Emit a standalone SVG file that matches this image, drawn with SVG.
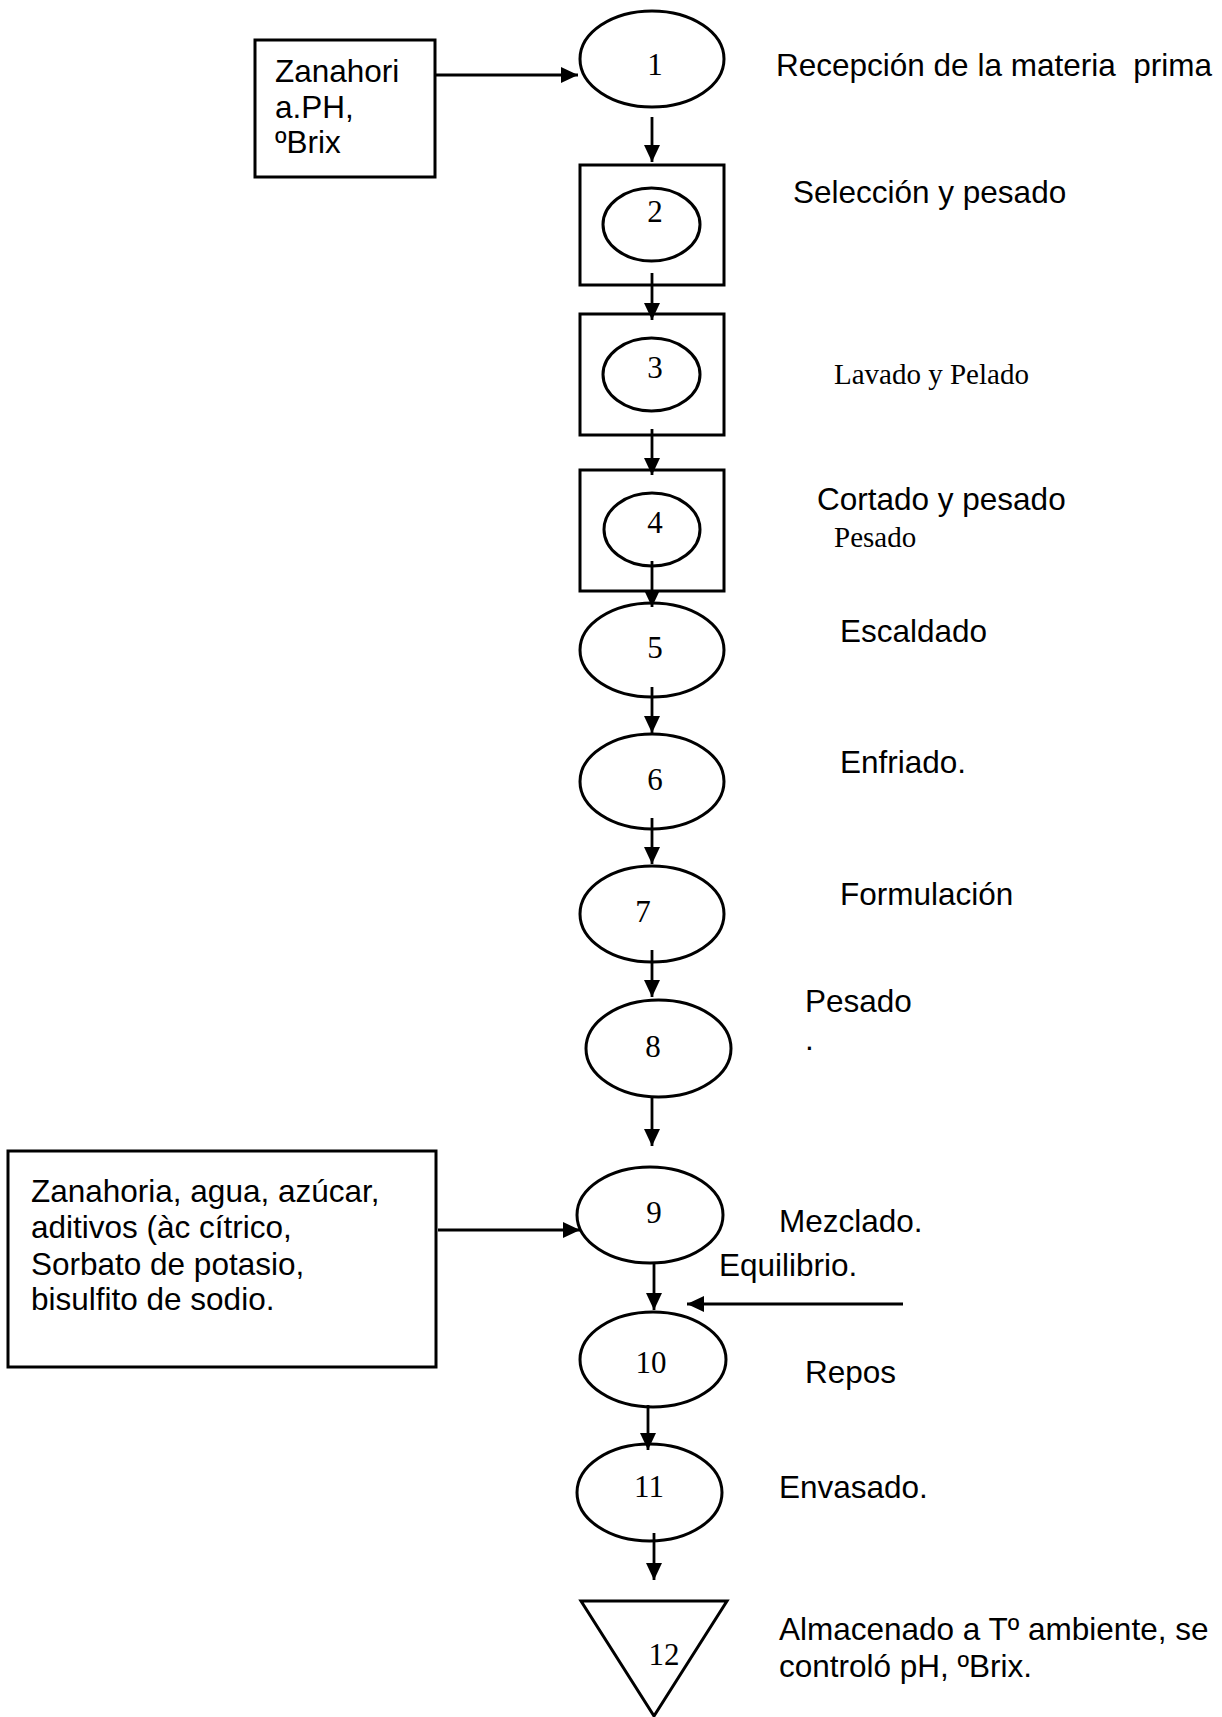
<svg xmlns="http://www.w3.org/2000/svg" width="1222" height="1717" viewBox="0 0 1222 1717">
<defs>
<marker id="arr" markerWidth="17" markerHeight="16" refX="17" refY="8" orient="auto" markerUnits="userSpaceOnUse">
<path d="M0,0 L17,8 L0,16 z" fill="#000"/>
</marker>
<style>
.shape{fill:#fff;stroke:#000;stroke-width:3}
.conn line{stroke:#000;stroke-width:2.8;marker-end:url(#arr)}
.sans{font-family:"Liberation Sans",Arial,sans-serif;font-size:31.5px;fill:#000;white-space:pre}
.serif{font-family:"Liberation Serif","Times New Roman",serif;font-size:29px;fill:#000}
.num{font-family:"Liberation Serif","Times New Roman",serif;font-size:31px;fill:#000;text-anchor:middle}
</style>
</defs>
<rect width="1222" height="1717" fill="#fff"/>

<g id="input1">
<rect class="shape" x="255" y="40" width="180" height="137"/>
<text class="sans" x="275" y="82">Zanahori</text>
<text class="sans" x="275" y="118">a.PH,</text>
<text class="sans" x="275" y="153">ºBrix</text>
</g>

<g id="input2">
<rect class="shape" x="8" y="1151" width="428" height="216"/>
<text class="sans" x="31" y="1202">Zanahoria, agua, azúcar,</text>
<text class="sans" x="31" y="1238">aditivos (àc cítrico,</text>
<text class="sans" x="31" y="1275">Sorbato de potasio,</text>
<text class="sans" x="31" y="1310">bisulfito de sodio.</text>
</g>

<g id="n1">
<ellipse class="shape" cx="652" cy="59" rx="72" ry="48"/>
<text class="num" x="655" y="75">1</text>
<text class="sans" x="776" y="76" xml:space="preserve">Recepción de la materia  prima</text>
</g>

<g id="n2">
<rect class="shape" x="580" y="165" width="144" height="120"/>
<ellipse class="shape" cx="651.5" cy="224.5" rx="48.5" ry="36.5"/>
<text class="num" x="655" y="222">2</text>
<text class="sans" x="793" y="203">Selección y pesado</text>
</g>

<g id="n3">
<rect class="shape" x="580" y="314" width="144" height="121"/>
<ellipse class="shape" cx="651.5" cy="374.5" rx="48.5" ry="36.5"/>
<text class="num" x="655" y="378">3</text>
<text class="serif" x="834" y="384">Lavado y Pelado</text>
</g>

<g id="n4">
<rect class="shape" x="580" y="470" width="144" height="121"/>
<ellipse class="shape" cx="652" cy="529.5" rx="48" ry="36.5"/>
<text class="num" x="655" y="533">4</text>
<text class="sans" x="817" y="510">Cortado y pesado</text>
<text class="serif" x="834" y="547">Pesado</text>
</g>

<g id="n5">
<ellipse class="shape" cx="652" cy="650" rx="72" ry="47"/>
<text class="num" x="655" y="658">5</text>
<text class="sans" x="840" y="642">Escaldado</text>
</g>

<g id="n6">
<ellipse class="shape" cx="652" cy="781.5" rx="72" ry="47.5"/>
<text class="num" x="655" y="790">6</text>
<text class="sans" x="840" y="773">Enfriado.</text>
</g>

<g id="n7">
<ellipse class="shape" cx="652" cy="914" rx="72" ry="48"/>
<text class="num" x="643" y="922">7</text>
<text class="sans" x="840" y="905">Formulación</text>
</g>

<g id="n8">
<ellipse class="shape" cx="658.5" cy="1048.5" rx="72.5" ry="48.5"/>
<text class="num" x="653" y="1057">8</text>
<text class="sans" x="805" y="1012">Pesado</text>
<text class="sans" x="805" y="1050">.</text>
</g>

<g id="n9">
<ellipse class="shape" cx="650" cy="1215" rx="73" ry="48"/>
<text class="num" x="654" y="1223">9</text>
<text class="sans" x="779" y="1232">Mezclado.</text>
<text class="sans" x="719" y="1276">Equilibrio.</text>
</g>

<g id="n10">
<ellipse class="shape" cx="653" cy="1359.5" rx="73" ry="47.5"/>
<text class="num" x="651" y="1373">10</text>
<text class="sans" x="805" y="1383">Repos</text>
</g>

<g id="n11">
<ellipse class="shape" cx="649.5" cy="1492.5" rx="72.5" ry="48.5"/>
<text class="num" x="649" y="1497">11</text>
<text class="sans" x="779" y="1498">Envasado.</text>
</g>

<g id="n12">
<polygon class="shape" points="581,1601 727,1601 654,1716"/>
<text class="num" x="664" y="1665">12</text>
<text class="sans" x="779" y="1640">Almacenado a Tº ambiente, se</text>
<text class="sans" x="779" y="1677">controló pH, ºBrix.</text>
</g>

<g id="connectors" class="conn">
<line x1="435" y1="75" x2="578" y2="75"/>
<line x1="652" y1="117" x2="652" y2="162"/>
<line x1="652" y1="273" x2="652" y2="320"/>
<line x1="652" y1="429" x2="652" y2="475"/>
<line x1="652" y1="561" x2="652" y2="607"/>
<line x1="652" y1="687" x2="652" y2="733"/>
<line x1="652" y1="818" x2="652" y2="864"/>
<line x1="652" y1="950" x2="652" y2="997"/>
<line x1="652" y1="1097" x2="652" y2="1146"/>
<line x1="438" y1="1230" x2="580" y2="1230"/>
<line x1="654" y1="1263" x2="654" y2="1310"/>
<line x1="903" y1="1304" x2="687" y2="1304"/>
<line x1="648" y1="1405" x2="648" y2="1450"/>
<line x1="654" y1="1533" x2="654" y2="1580"/>
</g>
</svg>
